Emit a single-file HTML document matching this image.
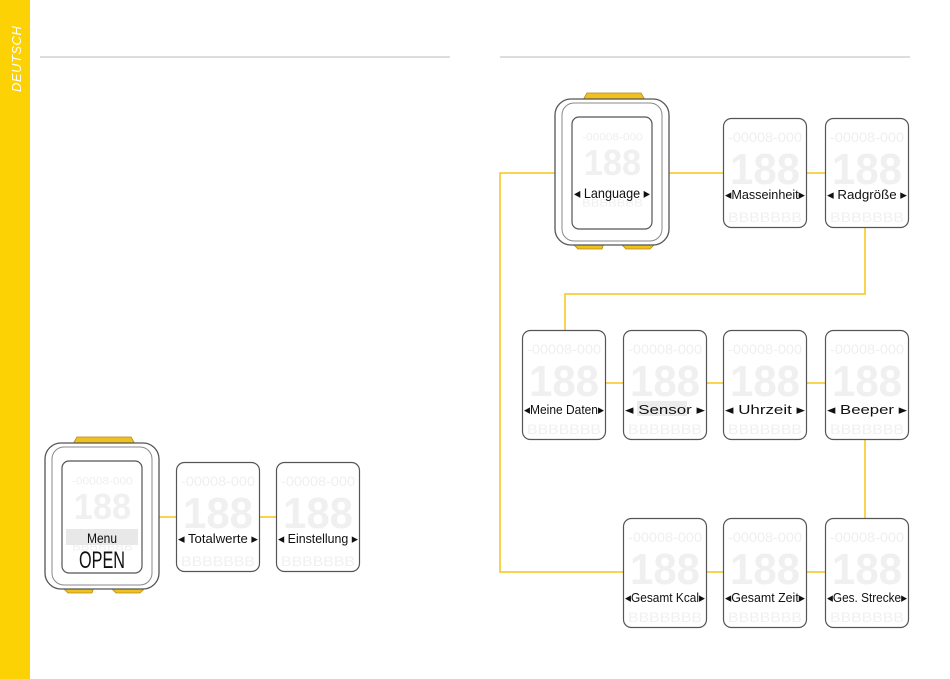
<!DOCTYPE html>
<html><head><meta charset="utf-8"><style>
html,body{margin:0;padding:0;background:#fff;}
svg{display:block;}
text{font-family:"Liberation Sans",sans-serif;}
</style></head><body>
<svg width="950" height="679" viewBox="0 0 950 679" xmlns="http://www.w3.org/2000/svg">
<defs>
<g id="ghost">
  <text x="42" y="24" font-size="14" fill="#efefef" text-anchor="middle" font-family="Liberation Mono" textLength="74" lengthAdjust="spacingAndGlyphs">-00008-000</text>
  <text x="42" y="66" font-size="44" fill="#f0f0f0" text-anchor="middle" font-family="Liberation Mono" font-weight="bold" textLength="70" lengthAdjust="spacingAndGlyphs">188</text>
  <text x="42" y="104" font-size="14" fill="#f0f0f0" text-anchor="middle" font-family="Liberation Mono" textLength="74" lengthAdjust="spacingAndGlyphs">BBBBBBB</text>
</g>
<g id="scr">
  <rect x="0.5" y="0.5" width="83" height="109" rx="8" fill="#fff" stroke="#555" stroke-width="1.2"/>
  <use href="#ghost"/>
</g>
<g id="dev">
  <path d="M29 7 L33 0 L87 0 L91 7 Z" fill="#f0c020" stroke="#b08a10" stroke-width="0.8"/>
  <path d="M18 150 L50 150 L48 156 L24 156 Z" fill="#f0c020" stroke="#b08a10" stroke-width="0.8"/>
  <path d="M66 150 L102 150 L96 156 L72 156 Z" fill="#f0c020" stroke="#b08a10" stroke-width="0.8"/>
  <rect x="1" y="6" width="114" height="146" rx="16" fill="#fff" stroke="#555" stroke-width="1.3"/>
  <rect x="8" y="10" width="100" height="138" rx="12" fill="#fff" stroke="#888" stroke-width="1"/>
  <rect x="18" y="24" width="80" height="112" rx="7" fill="#fff" stroke="#555" stroke-width="1.2"/>
</g>
</defs>

<rect x="0" y="0" width="30" height="679" fill="#fcd204"/>
<text transform="translate(21,92) rotate(-90)" font-size="13" font-style="italic" fill="#fff" letter-spacing="0.5">DEUTSCH</text>
<line x1="40" y1="57" x2="450" y2="57" stroke="#bbb" stroke-width="1"/>
<line x1="500" y1="57" x2="910" y2="57" stroke="#bbb" stroke-width="1"/>

<g stroke="#f5c518" stroke-width="1.5" fill="none">
  <line x1="158" y1="517" x2="176" y2="517"/>
  <line x1="260" y1="517" x2="276" y2="517"/>
  <polyline points="556,173 500,173 500,572 623,572"/>
  <line x1="668" y1="173" x2="723" y2="173"/>
  <line x1="807" y1="173" x2="825" y2="173"/>
  <polyline points="865,228 865,294 565,294 565,330"/>
  <line x1="606" y1="383" x2="623" y2="383"/>
  <line x1="707" y1="383" x2="723" y2="383"/>
  <line x1="807" y1="383" x2="825" y2="383"/>
  <line x1="865" y1="440" x2="865" y2="518"/>
  <line x1="707" y1="572" x2="723" y2="572"/>
  <line x1="807" y1="572" x2="825" y2="572"/>
</g>

<g transform="translate(44,437)">
  <use href="#dev"/>
  <g transform="translate(24,28) scale(0.82)"><use href="#ghost"/></g>
  <rect x="22" y="92" width="72" height="16" fill="#e8e8e8"/>
  <text x="58" y="106" font-size="14" text-anchor="middle" fill="#111" textLength="30" lengthAdjust="spacingAndGlyphs">Menu</text>
  <text x="58" y="131" font-size="24" text-anchor="middle" fill="#111" textLength="46" lengthAdjust="spacingAndGlyphs">OPEN</text>
</g>
<g transform="translate(176,462)"><use href="#scr"/>
  <text x="42" y="81" font-size="13" text-anchor="middle" fill="#111" textLength="80" lengthAdjust="spacingAndGlyphs">◂ Totalwerte ▸</text></g>
<g transform="translate(276,462)"><use href="#scr"/>
  <text x="42" y="81" font-size="13" text-anchor="middle" fill="#111" textLength="80" lengthAdjust="spacingAndGlyphs">◂ Einstellung ▸</text></g>

<g transform="translate(554,93)">
  <use href="#dev"/>
  <g transform="translate(24,28) scale(0.82)"><use href="#ghost"/></g>
  <text x="58" y="105" font-size="14" text-anchor="middle" fill="#111" textLength="76" lengthAdjust="spacingAndGlyphs">◂  Language  ▸</text>
</g>
<g transform="translate(723,118)"><use href="#scr"/>
  <text x="42" y="81" font-size="13" text-anchor="middle" fill="#111" textLength="80" lengthAdjust="spacingAndGlyphs">◂Masseinheit▸</text></g>
<g transform="translate(825,118)"><use href="#scr"/>
  <text x="42" y="81" font-size="13" text-anchor="middle" fill="#111" textLength="80" lengthAdjust="spacingAndGlyphs">◂  Radgröße  ▸</text></g>

<g transform="translate(522,330)"><use href="#scr"/>
  <text x="42" y="84" font-size="13" text-anchor="middle" fill="#111" textLength="80" lengthAdjust="spacingAndGlyphs">◂Meine Daten▸</text></g>
<g transform="translate(623,330)"><use href="#scr"/>
  <rect x="14" y="71" width="50" height="15" fill="#ececec"/>
  <text x="42" y="84" font-size="13" text-anchor="middle" fill="#111" textLength="80" lengthAdjust="spacingAndGlyphs">◂    Sensor    ▸</text></g>
<g transform="translate(723,330)"><use href="#scr"/>
  <text x="42" y="84" font-size="13" text-anchor="middle" fill="#111" textLength="80" lengthAdjust="spacingAndGlyphs">◂    Uhrzeit    ▸</text></g>
<g transform="translate(825,330)"><use href="#scr"/>
  <text x="42" y="84" font-size="13" text-anchor="middle" fill="#111" textLength="80" lengthAdjust="spacingAndGlyphs">◂    Beeper    ▸</text></g>

<g transform="translate(623,518)"><use href="#scr"/>
  <text x="42" y="84" font-size="13" text-anchor="middle" fill="#111" textLength="80" lengthAdjust="spacingAndGlyphs">◂Gesamt Kcal▸</text></g>
<g transform="translate(723,518)"><use href="#scr"/>
  <text x="42" y="84" font-size="13" text-anchor="middle" fill="#111" textLength="80" lengthAdjust="spacingAndGlyphs">◂Gesamt Zeit▸</text></g>
<g transform="translate(825,518)"><use href="#scr"/>
  <text x="42" y="84" font-size="13" text-anchor="middle" fill="#111" textLength="80" lengthAdjust="spacingAndGlyphs">◂Ges. Strecke▸</text></g>
</svg>
</body></html>
